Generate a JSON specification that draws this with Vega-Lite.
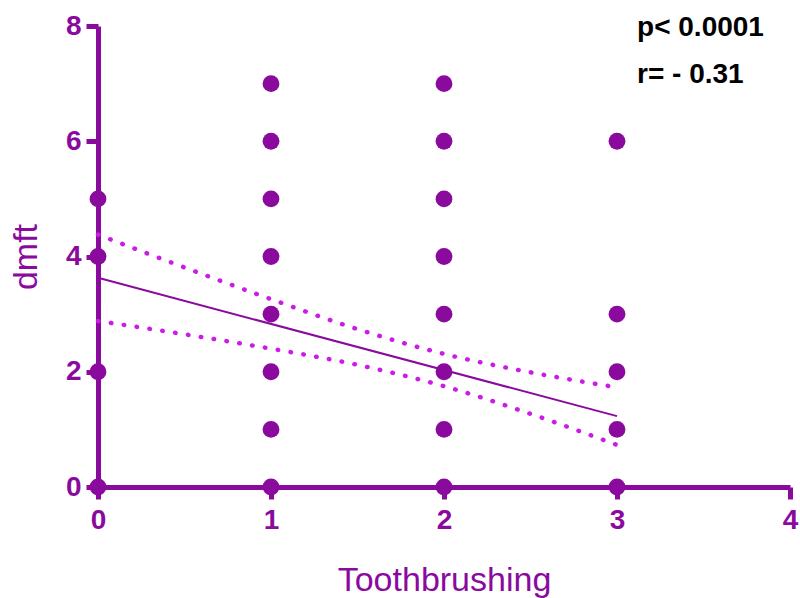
{
  "$schema": "https://vega.github.io/schema/vega-lite/v6.json",
  "width": 692,
  "height": 461,
  "autosize": {"type": "none"},
  "padding": {"left": 98, "top": 26, "right": 10, "bottom": 111},
  "background": "white",
  "config": {
    "view": {"stroke": null},
    "axis": {
      "grid": false,
      "domainColor": "#8a0a9e",
      "domainWidth": 5,
      "tickColor": "#8a0a9e",
      "tickWidth": 5,
      "tickSize": 12,
      "labelFlush": false,
      "labelColor": "#8a0a9e",
      "labelFont": "Liberation Sans, Arial, sans-serif",
      "labelFontWeight": "bold",
      "labelFontSize": 28,
      "titleColor": "#8a0a9e",
      "titleFont": "Liberation Sans, Arial, sans-serif",
      "titleFontWeight": "normal",
      "titleFontSize": 34
    }
  },
  "datasets": {
    "points": [
      {"toothbrushing": 0, "dmft": 0},
      {"toothbrushing": 0, "dmft": 2},
      {"toothbrushing": 0, "dmft": 4},
      {"toothbrushing": 0, "dmft": 5},
      {"toothbrushing": 1, "dmft": 0},
      {"toothbrushing": 1, "dmft": 1},
      {"toothbrushing": 1, "dmft": 2},
      {"toothbrushing": 1, "dmft": 3},
      {"toothbrushing": 1, "dmft": 4},
      {"toothbrushing": 1, "dmft": 5},
      {"toothbrushing": 1, "dmft": 6},
      {"toothbrushing": 1, "dmft": 7},
      {"toothbrushing": 2, "dmft": 0},
      {"toothbrushing": 2, "dmft": 1},
      {"toothbrushing": 2, "dmft": 2},
      {"toothbrushing": 2, "dmft": 3},
      {"toothbrushing": 2, "dmft": 4},
      {"toothbrushing": 2, "dmft": 5},
      {"toothbrushing": 2, "dmft": 6},
      {"toothbrushing": 2, "dmft": 7},
      {"toothbrushing": 3, "dmft": 0},
      {"toothbrushing": 3, "dmft": 1},
      {"toothbrushing": 3, "dmft": 2},
      {"toothbrushing": 3, "dmft": 3},
      {"toothbrushing": 3, "dmft": 6}
    ],
    "fit": [
      {"toothbrushing": 0, "dmft": 3.63},
      {"toothbrushing": 3, "dmft": 1.23}
    ],
    "band": [
      {"toothbrushing": 0, "dmft": 4.38, "bound": "upper"},
      {"toothbrushing": 0.5, "dmft": 3.81, "bound": "upper"},
      {"toothbrushing": 1, "dmft": 3.26, "bound": "upper"},
      {"toothbrushing": 1.5, "dmft": 2.74, "bound": "upper"},
      {"toothbrushing": 2, "dmft": 2.31, "bound": "upper"},
      {"toothbrushing": 2.5, "dmft": 1.99, "bound": "upper"},
      {"toothbrushing": 3, "dmft": 1.73, "bound": "upper"},
      {"toothbrushing": 0, "dmft": 2.88, "bound": "lower"},
      {"toothbrushing": 0.5, "dmft": 2.65, "bound": "lower"},
      {"toothbrushing": 1, "dmft": 2.4, "bound": "lower"},
      {"toothbrushing": 1.5, "dmft": 2.12, "bound": "lower"},
      {"toothbrushing": 2, "dmft": 1.75, "bound": "lower"},
      {"toothbrushing": 2.5, "dmft": 1.27, "bound": "lower"},
      {"toothbrushing": 3, "dmft": 0.73, "bound": "lower"}
    ],
    "notes": [
      {"label": "p< 0.0001", "tx": 3.116, "ty": 7.83},
      {"label": "r= - 0.31", "tx": 3.116, "ty": 7.01}
    ]
  },
  "layer": [
    {
      "data": {"name": "band"},
      "mark": {"type": "line", "color": "#cc1be6", "strokeWidth": 4.5, "strokeCap": "round", "strokeDash": [0.5, 12.5], "interpolate": "monotone"},
      "encoding": {
        "x": {"field": "toothbrushing", "type": "quantitative", "scale": {"domain": [0, 4], "nice": false},
          "axis": {"values": [0, 1, 2, 3, 4], "format": "d", "title": "Toothbrushing", "labelPadding": 7, "titlePadding": 29}},
        "y": {"field": "dmft", "type": "quantitative", "scale": {"domain": [0, 8], "nice": false},
          "axis": {"values": [0, 2, 4, 6, 8], "format": "d", "title": "dmft", "labelPadding": 5, "titlePadding": 22}},
        "detail": {"field": "bound"}
      }
    },
    {
      "data": {"name": "fit"},
      "mark": {"type": "line", "color": "#8a0a9e", "strokeWidth": 2},
      "encoding": {
        "x": {"field": "toothbrushing", "type": "quantitative"},
        "y": {"field": "dmft", "type": "quantitative"}
      }
    },
    {
      "data": {"name": "points"},
      "mark": {"type": "circle", "color": "#8a0a9e", "opacity": 1, "size": 283},
      "encoding": {
        "x": {"field": "toothbrushing", "type": "quantitative"},
        "y": {"field": "dmft", "type": "quantitative"}
      }
    },
    {
      "data": {"name": "notes"},
      "mark": {"type": "text", "align": "left", "baseline": "alphabetic", "font": "Liberation Sans, Arial, sans-serif", "fontWeight": "bold", "fontSize": 28, "color": "black"},
      "encoding": {
        "x": {"field": "tx", "type": "quantitative"},
        "y": {"field": "ty", "type": "quantitative"},
        "text": {"field": "label"}
      }
    }
  ]
}
